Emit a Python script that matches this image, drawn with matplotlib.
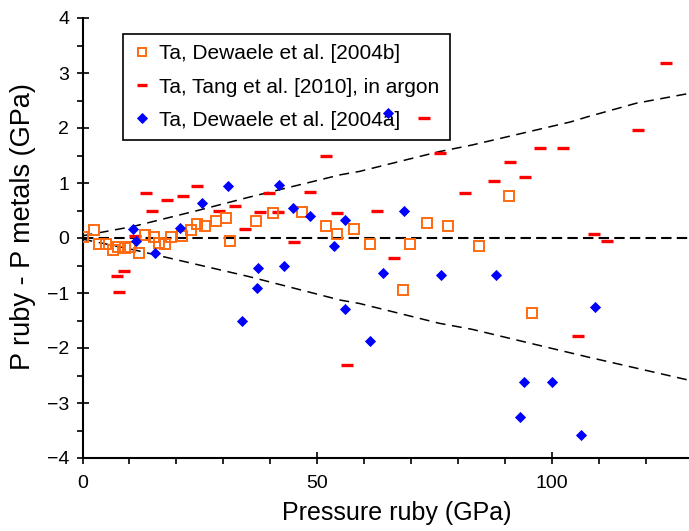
import matplotlib
matplotlib.use("Agg")
import matplotlib.pyplot as plt
from matplotlib.ticker import MultipleLocator

plt.rcParams['font.family'] = ['Liberation Sans', 'DejaVu Sans']

# Ta, Dewaele et al. [2004b] (open orange squares)
dew04b_x = [0.2, 2.4, 3.5, 5.1, 6.4, 7.6, 9.0, 10.1, 12.0, 13.3, 15.2, 16.3, 17.5, 18.9,
            21.2, 23.2, 24.4, 26.2, 28.4, 30.5, 31.4, 37.0, 40.7, 46.7, 51.9, 54.3, 57.8,
            61.3, 68.4, 69.8, 73.5, 78.0, 84.5, 91.0, 95.8]
dew04b_y = [0.01, 0.15, -0.10, -0.11, -0.22, -0.17, -0.18, -0.16, -0.28, 0.05, 0.01, -0.09,
            -0.11, 0.01, 0.04, 0.15, 0.25, 0.22, 0.31, 0.36, -0.05, 0.31, 0.45, 0.48, 0.21,
            0.07, 0.16, -0.11, -0.95, -0.11, 0.27, 0.22, -0.14, 0.77, -1.36]

# Ta, Tang et al. [2010], in argon (red dashes)
tang_x = [7.4, 7.7, 8.8, 11.1, 13.5, 14.8, 18.0, 21.4, 24.3, 29.0, 32.4, 34.7, 37.8, 39.8,
          41.6, 45.0, 48.4, 51.9, 54.3, 56.3, 62.8, 66.3, 72.8, 76.2, 81.6, 87.7, 91.2,
          94.3, 97.4, 102.5, 105.6, 109.0, 111.8, 118.3, 124.4]
tang_y = [-0.69, -0.98, -0.60, 0.04, 0.82, 0.50, 0.70, 0.77, 0.95, 0.50, 0.59, 0.16, 0.48,
          0.82, 0.48, -0.08, 0.83, 1.50, 0.45, -2.31, 0.50, -0.37, 2.19, 1.55, 0.82, 1.03,
          1.38, 1.11, 1.64, 1.64, -1.79, 0.07, -0.05, 1.96, 3.18]

# Ta, Dewaele et al. [2004a] (blue diamonds)
dew04a_x = [10.8, 11.5, 15.5, 20.7, 25.5, 31.0, 34.0, 37.1, 37.5, 41.9, 42.9, 44.9, 48.4,
            53.6, 55.9, 55.9, 61.2, 64.1, 65.2, 68.6, 76.5, 88.2, 93.3, 94.0, 100.1, 106.3,
            109.3]
dew04a_y = [0.16, -0.05, -0.27, 0.19, 0.64, 0.95, -1.50, -0.90, -0.55, 0.96, -0.50, 0.55,
            0.40, -0.15, 0.32, -1.29, -1.87, -0.64, 2.28, 0.49, -0.67, -0.67, -3.26, -2.62,
            -2.62, -3.58, -1.26]

# Envelope dashed curves
env_up_x = [0, 10.8, 25, 35.4, 55, 59, 76, 83, 104, 107.5, 118, 130]
env_up_y = [0.04, 0.21, 0.51, 0.74, 1.15, 1.21, 1.57, 1.69, 2.11, 2.20, 2.45, 2.64]
env_lo_x = [0, 11.2, 23.3, 35.4, 55, 59, 76, 83, 107.5, 130]
env_lo_y = [-0.02, -0.22, -0.46, -0.70, -1.13, -1.19, -1.55, -1.66, -2.16, -2.60]

labels = ["Ta, Dewaele et al. [2004b]", "Ta, Tang et al. [2010], in argon",
          "Ta, Dewaele et al. [2004a]"]

W, H = 689, 531
fig = plt.figure(figsize=(W / 100, H / 100), dpi=100)
ax = fig.add_axes([82.5 / W, (H - 458) / H, (W - 82.5) / W, 440 / H])

ax.axhline(0, color='black', lw=1.5, linestyle=(0, (5, 2.5)), zorder=1)
ax.plot(env_up_x, env_up_y, color='black', lw=1.1, linestyle=(0, (6.5, 4.3)), zorder=1)
ax.plot(env_lo_x, env_lo_y, color='black', lw=1.1, linestyle=(0, (6.5, 4.3)), zorder=1)

h_red, = ax.plot(tang_x, tang_y, linestyle='none', marker='_', ms=8, mew=2.4,
                 color='#FF0000', zorder=3)
h_or, = ax.plot(dew04b_x, dew04b_y, linestyle='none', marker='s', ms=6.9, mew=1.4,
                mfc='none', mec='#FF6A10', zorder=3.1)
h_bl, = ax.plot(dew04a_x, dew04a_y, linestyle='none', marker='D', ms=5.5, mew=0.6,
                color='#0000FF', zorder=3.2)

ax.set_xlim(0, (W - 82.5) / 4.692)
ax.set_ylim(-4, 4)
ax.xaxis.set_major_locator(MultipleLocator(50))
ax.xaxis.set_minor_locator(MultipleLocator(10))
ax.yaxis.set_major_locator(MultipleLocator(1))
ax.yaxis.set_minor_locator(MultipleLocator(0.5))

for s in ['top', 'right']:
    ax.spines[s].set_visible(False)
for s in ['left', 'bottom']:
    ax.spines[s].set_linewidth(1.5)

ax.tick_params(which='major', direction='inout', length=9, width=1.2, labelsize=14, pad=5)
ax.tick_params(which='minor', direction='out', length=4.5, width=1.2)
ax.tick_params(axis='x', which='major', pad=8)

ax.set_xlabel("Pressure ruby (GPa)", fontsize=18)
ax.set_ylabel("P ruby - P metals (GPa)", fontsize=19.5)
ax.xaxis.set_label_coords((397 - 82.5) / (W - 82.5), -(501 - 458) / 440)
ax.yaxis.set_label_coords(-0.077, (458 - 227) / 440)

leg = ax.legend([h_or, h_red, h_bl], labels, loc='upper left',
                bbox_to_anchor=((123 - 82.5) / (W - 82.5), (458 - 34) / 440),
                borderaxespad=0, fontsize=15, frameon=True, fancybox=False,
                edgecolor='black', framealpha=1, handlelength=0.8, handletextpad=0.45,
                labelspacing=0.68, borderpad=0.5, markerscale=0.85)
leg.get_frame().set_linewidth(1.2)
leg.set_zorder(2)

fig.savefig("out.png", dpi=100)
